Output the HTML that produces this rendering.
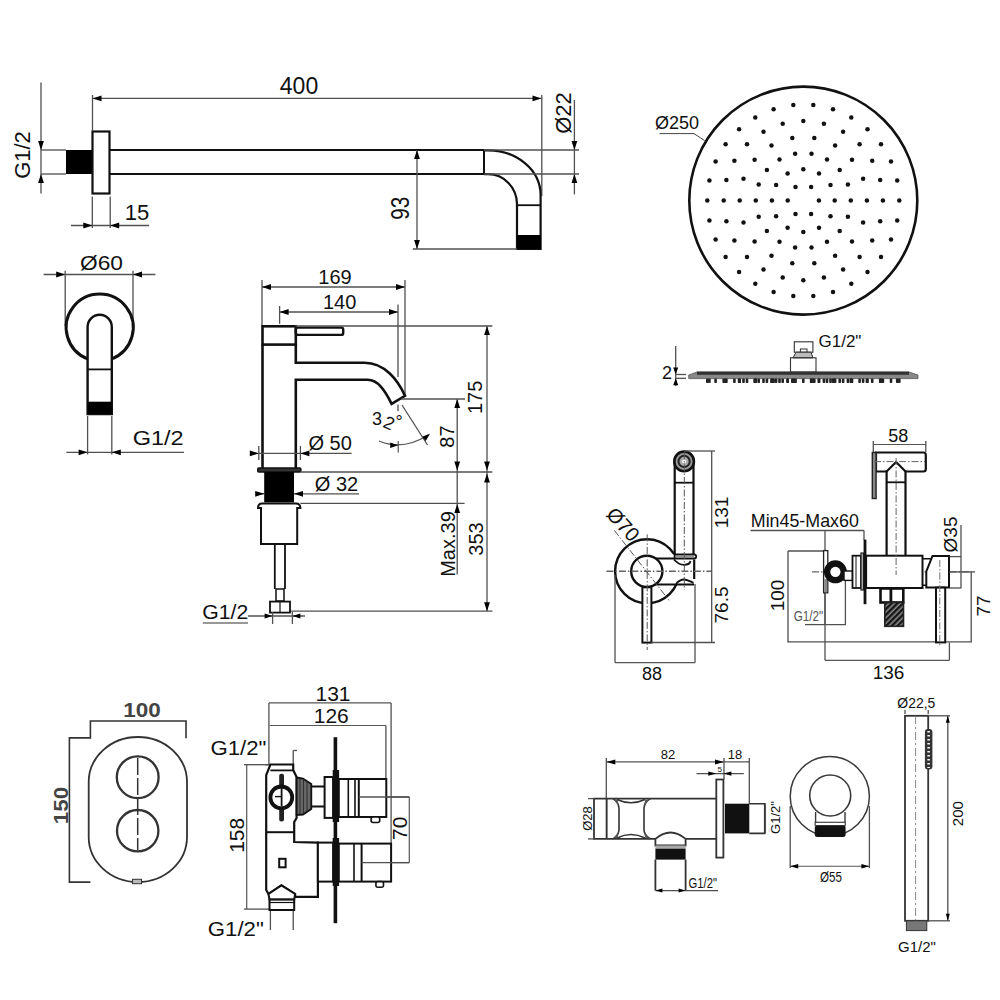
<!DOCTYPE html>
<html><head><meta charset="utf-8"><style>
html,body{margin:0;padding:0;background:#fff;}
svg{display:block;}
</style></head><body>
<svg width="1000" height="1000" viewBox="0 0 1000 1000">
<rect width="1000" height="1000" fill="#fff"/>
<line x1="41" y1="82.5" x2="41" y2="193.5" stroke="#505050" stroke-width="1.3" />
<polygon points="41.0,150.0 38.1,141.0 43.9,141.0" fill="#000"/>
<polygon points="41.0,174.0 38.1,183.0 43.9,183.0" fill="#000"/>
<line x1="41" y1="150" x2="66" y2="150" stroke="#505050" stroke-width="1.3" />
<line x1="41" y1="174" x2="66" y2="174" stroke="#505050" stroke-width="1.3" />
<text x="29.5" y="155" font-family="Liberation Sans" font-size="22" fill="#111" text-anchor="middle" transform="rotate(-90 29.5 155)" >G1/2</text>
<rect x="66" y="150" width="26" height="24" fill="#000"/>
<rect x="92.5" y="131.5" width="17" height="62" fill="none" stroke="#111" stroke-width="2.2" />
<line x1="109.5" y1="150" x2="484" y2="150" stroke="#111" stroke-width="2.2" />
<line x1="109.5" y1="174" x2="484" y2="174" stroke="#111" stroke-width="2.2" />
<line x1="92.5" y1="98.4" x2="541.5" y2="98.4" stroke="#505050" stroke-width="1.3" />
<polygon points="92.5,98.4 101.5,95.5 101.5,101.3" fill="#000"/>
<polygon points="541.5,98.4 532.5,95.5 532.5,101.3" fill="#000"/>
<line x1="92.5" y1="95" x2="92.5" y2="130.5" stroke="#505050" stroke-width="1.3" />
<line x1="541.8" y1="95" x2="541.8" y2="196" stroke="#505050" stroke-width="1.3" />
<text x="299" y="93.5" font-family="Liberation Sans" font-size="23" fill="#111" text-anchor="middle" >400</text>
<line x1="92.3" y1="196.5" x2="92.3" y2="228" stroke="#505050" stroke-width="1.3" />
<line x1="110.2" y1="196.5" x2="110.2" y2="228" stroke="#505050" stroke-width="1.3" />
<line x1="71" y1="225.5" x2="149" y2="225.5" stroke="#505050" stroke-width="1.3" />
<polygon points="92.3,225.5 83.3,222.6 83.3,228.4" fill="#000"/>
<polygon points="110.2,225.5 119.2,222.6 119.2,228.4" fill="#000"/>
<text x="137" y="220" font-family="Liberation Sans" font-size="22" fill="#111" text-anchor="middle" >15</text>
<line x1="484" y1="150" x2="484" y2="174" stroke="#111" stroke-width="2" />
<path d="M484,150.3 L488,150.3 A52.5,44.7 0 0 1 540.6,195 L540.6,249 L517,249 L517,204 A29,30 0 0 0 488,174.2 L484,174.2" fill="none" stroke="#111" stroke-width="2.2" />
<line x1="517" y1="205.2" x2="540.6" y2="205.2" stroke="#111" stroke-width="1.8" />
<rect x="517" y="235" width="24" height="14" fill="#000"/>
<line x1="417" y1="150" x2="417" y2="249" stroke="#505050" stroke-width="1.3" />
<polygon points="417.0,150.0 414.1,159.0 419.9,159.0" fill="#000"/>
<polygon points="417.0,249.0 414.1,240.0 419.9,240.0" fill="#000"/>
<line x1="412.8" y1="249" x2="517" y2="249" stroke="#505050" stroke-width="1.3" />
<text x="409.5" y="208.3" font-family="Liberation Sans" font-size="25" fill="#111" text-anchor="middle" transform="rotate(-90 409.5 208.3)" textLength="23" lengthAdjust="spacingAndGlyphs">93</text>
<line x1="574.4" y1="100" x2="574.4" y2="194.4" stroke="#505050" stroke-width="1.3" />
<polygon points="574.4,150.0 571.5,141.0 577.3,141.0" fill="#000"/>
<polygon points="574.4,174.0 571.5,183.0 577.3,183.0" fill="#000"/>
<line x1="484" y1="150" x2="579" y2="150" stroke="#505050" stroke-width="1.3" />
<line x1="484" y1="174" x2="579" y2="174" stroke="#505050" stroke-width="1.3" />
<text x="570.5" y="113" font-family="Liberation Sans" font-size="22" fill="#111" text-anchor="middle" transform="rotate(-90 570.5 113)" >Ø22</text>
<circle cx="803.3" cy="200.6" r="114" fill="none" stroke="#111" stroke-width="2.6" />
<g fill="#111"><circle cx="818.9" cy="200.6" r="2.25"/><circle cx="811.1" cy="187.1" r="2.25"/><circle cx="795.5" cy="187.1" r="2.25"/><circle cx="787.7" cy="200.6" r="2.25"/><circle cx="795.5" cy="214.1" r="2.25"/><circle cx="811.1" cy="214.1" r="2.25"/><circle cx="834.7" cy="200.6" r="2.25"/><circle cx="830.5" cy="184.9" r="2.25"/><circle cx="819.0" cy="173.4" r="2.25"/><circle cx="803.3" cy="169.2" r="2.25"/><circle cx="787.6" cy="173.4" r="2.25"/><circle cx="776.1" cy="184.9" r="2.25"/><circle cx="771.9" cy="200.6" r="2.25"/><circle cx="776.1" cy="216.3" r="2.25"/><circle cx="787.6" cy="227.8" r="2.25"/><circle cx="803.3" cy="232.0" r="2.25"/><circle cx="819.0" cy="227.8" r="2.25"/><circle cx="830.5" cy="216.3" r="2.25"/><circle cx="850.8" cy="200.6" r="2.25"/><circle cx="847.9" cy="184.4" r="2.25"/><circle cx="839.7" cy="170.1" r="2.25"/><circle cx="827.0" cy="159.5" r="2.25"/><circle cx="811.5" cy="153.8" r="2.25"/><circle cx="795.1" cy="153.8" r="2.25"/><circle cx="779.5" cy="159.5" r="2.25"/><circle cx="766.9" cy="170.1" r="2.25"/><circle cx="758.7" cy="184.4" r="2.25"/><circle cx="755.8" cy="200.6" r="2.25"/><circle cx="758.7" cy="216.8" r="2.25"/><circle cx="766.9" cy="231.1" r="2.25"/><circle cx="779.5" cy="241.7" r="2.25"/><circle cx="795.1" cy="247.4" r="2.25"/><circle cx="811.5" cy="247.4" r="2.25"/><circle cx="827.0" cy="241.7" r="2.25"/><circle cx="839.7" cy="231.1" r="2.25"/><circle cx="847.9" cy="216.8" r="2.25"/><circle cx="866.9" cy="200.6" r="2.25"/><circle cx="863.1" cy="178.8" r="2.25"/><circle cx="852.0" cy="159.7" r="2.25"/><circle cx="835.1" cy="145.5" r="2.25"/><circle cx="814.3" cy="138.0" r="2.25"/><circle cx="792.3" cy="138.0" r="2.25"/><circle cx="771.5" cy="145.5" r="2.25"/><circle cx="754.6" cy="159.7" r="2.25"/><circle cx="743.5" cy="178.8" r="2.25"/><circle cx="739.7" cy="200.6" r="2.25"/><circle cx="743.5" cy="222.4" r="2.25"/><circle cx="754.6" cy="241.5" r="2.25"/><circle cx="771.5" cy="255.7" r="2.25"/><circle cx="792.3" cy="263.2" r="2.25"/><circle cx="814.3" cy="263.2" r="2.25"/><circle cx="835.1" cy="255.7" r="2.25"/><circle cx="852.0" cy="241.5" r="2.25"/><circle cx="863.1" cy="222.4" r="2.25"/><circle cx="882.9" cy="200.6" r="2.25"/><circle cx="880.2" cy="180.0" r="2.25"/><circle cx="872.2" cy="160.8" r="2.25"/><circle cx="859.6" cy="144.3" r="2.25"/><circle cx="843.1" cy="131.7" r="2.25"/><circle cx="823.9" cy="123.7" r="2.25"/><circle cx="803.3" cy="121.0" r="2.25"/><circle cx="782.7" cy="123.7" r="2.25"/><circle cx="763.5" cy="131.7" r="2.25"/><circle cx="747.0" cy="144.3" r="2.25"/><circle cx="734.4" cy="160.8" r="2.25"/><circle cx="726.4" cy="180.0" r="2.25"/><circle cx="723.7" cy="200.6" r="2.25"/><circle cx="726.4" cy="221.2" r="2.25"/><circle cx="734.4" cy="240.4" r="2.25"/><circle cx="747.0" cy="256.9" r="2.25"/><circle cx="763.5" cy="269.5" r="2.25"/><circle cx="782.7" cy="277.5" r="2.25"/><circle cx="803.3" cy="280.2" r="2.25"/><circle cx="823.9" cy="277.5" r="2.25"/><circle cx="843.1" cy="269.5" r="2.25"/><circle cx="859.6" cy="256.9" r="2.25"/><circle cx="872.2" cy="240.4" r="2.25"/><circle cx="880.2" cy="221.2" r="2.25"/><circle cx="899.3" cy="200.6" r="2.25"/><circle cx="897.2" cy="180.6" r="2.25"/><circle cx="891.0" cy="161.6" r="2.25"/><circle cx="881.0" cy="144.2" r="2.25"/><circle cx="867.5" cy="129.3" r="2.25"/><circle cx="851.3" cy="117.5" r="2.25"/><circle cx="833.0" cy="109.3" r="2.25"/><circle cx="813.3" cy="105.1" r="2.25"/><circle cx="793.3" cy="105.1" r="2.25"/><circle cx="773.6" cy="109.3" r="2.25"/><circle cx="755.3" cy="117.5" r="2.25"/><circle cx="739.1" cy="129.3" r="2.25"/><circle cx="725.6" cy="144.2" r="2.25"/><circle cx="715.6" cy="161.6" r="2.25"/><circle cx="709.4" cy="180.6" r="2.25"/><circle cx="707.3" cy="200.6" r="2.25"/><circle cx="709.4" cy="220.6" r="2.25"/><circle cx="715.6" cy="239.6" r="2.25"/><circle cx="725.6" cy="257.0" r="2.25"/><circle cx="739.1" cy="271.9" r="2.25"/><circle cx="755.3" cy="283.7" r="2.25"/><circle cx="773.6" cy="291.9" r="2.25"/><circle cx="793.3" cy="296.1" r="2.25"/><circle cx="813.3" cy="296.1" r="2.25"/><circle cx="833.0" cy="291.9" r="2.25"/><circle cx="851.3" cy="283.7" r="2.25"/><circle cx="867.5" cy="271.9" r="2.25"/><circle cx="881.0" cy="257.0" r="2.25"/><circle cx="891.0" cy="239.6" r="2.25"/><circle cx="897.2" cy="220.6" r="2.25"/></g>
<text x="655" y="128.5" font-family="Liberation Sans" font-size="18" fill="#111" text-anchor="start" >Ø250</text>
<polyline points="659.5,133.6 694,133.6 704.5,140.5" fill="none" stroke="#444" stroke-width="1"/>
<line x1="675.7" y1="346" x2="675.7" y2="386" stroke="#505050" stroke-width="1.3" />
<polygon points="675.7,374.5 673.2,367.5 678.2,367.5" fill="#000"/>
<polygon points="675.7,378.3 673.2,385.3 678.2,385.3" fill="#000"/>
<line x1="675.7" y1="374.5" x2="686" y2="374.5" stroke="#505050" stroke-width="1.3" />
<line x1="675.7" y1="378.3" x2="686" y2="378.3" stroke="#505050" stroke-width="1.3" />
<text x="667" y="378.5" font-family="Liberation Sans" font-size="18" fill="#111" text-anchor="middle" >2</text>
<polygon points="688.7,375 697,372 909,372 918,375 918,378.6 688.7,378.6" fill="#888" stroke="#555" stroke-width="0.8"/>
<rect x="697" y="371.6" width="212" height="3.2" fill="#333"/>
<g fill="#222"><rect x="706.0" y="378.6" width="2.6" height="4.4" rx="0.8"/><rect x="708.1" y="378.6" width="2.6" height="4.4" rx="0.8"/><rect x="714.3" y="378.6" width="2.6" height="4.4" rx="0.8"/><rect x="722.4" y="378.6" width="2.6" height="4.4" rx="0.8"/><rect x="724.3" y="378.6" width="2.6" height="4.4" rx="0.8"/><rect x="725.1" y="378.6" width="2.6" height="4.4" rx="0.8"/><rect x="733.1" y="378.6" width="2.6" height="4.4" rx="0.8"/><rect x="737.8" y="378.6" width="2.6" height="4.4" rx="0.8"/><rect x="738.4" y="378.6" width="2.6" height="4.4" rx="0.8"/><rect x="742.2" y="378.6" width="2.6" height="4.4" rx="0.8"/><rect x="745.7" y="378.6" width="2.6" height="4.4" rx="0.8"/><rect x="753.3" y="378.6" width="2.6" height="4.4" rx="0.8"/><rect x="754.0" y="378.6" width="2.6" height="4.4" rx="0.8"/><rect x="754.5" y="378.6" width="2.6" height="4.4" rx="0.8"/><rect x="757.4" y="378.6" width="2.6" height="4.4" rx="0.8"/><rect x="762.2" y="378.6" width="2.6" height="4.4" rx="0.8"/><rect x="765.6" y="378.6" width="2.6" height="4.4" rx="0.8"/><rect x="770.2" y="378.6" width="2.6" height="4.4" rx="0.8"/><rect x="770.6" y="378.6" width="2.6" height="4.4" rx="0.8"/><rect x="772.3" y="378.6" width="2.6" height="4.4" rx="0.8"/><rect x="774.8" y="378.6" width="2.6" height="4.4" rx="0.8"/><rect x="778.2" y="378.6" width="2.6" height="4.4" rx="0.8"/><rect x="781.4" y="378.6" width="2.6" height="4.4" rx="0.8"/><rect x="786.3" y="378.6" width="2.6" height="4.4" rx="0.8"/><rect x="786.4" y="378.6" width="2.6" height="4.4" rx="0.8"/><rect x="791.0" y="378.6" width="2.6" height="4.4" rx="0.8"/><rect x="792.0" y="378.6" width="2.6" height="4.4" rx="0.8"/><rect x="793.8" y="378.6" width="2.6" height="4.4" rx="0.8"/><rect x="794.2" y="378.6" width="2.6" height="4.4" rx="0.8"/><rect x="802.0" y="378.6" width="2.6" height="4.4" rx="0.8"/><rect x="809.8" y="378.6" width="2.6" height="4.4" rx="0.8"/><rect x="810.2" y="378.6" width="2.6" height="4.4" rx="0.8"/><rect x="812.0" y="378.6" width="2.6" height="4.4" rx="0.8"/><rect x="813.0" y="378.6" width="2.6" height="4.4" rx="0.8"/><rect x="817.6" y="378.6" width="2.6" height="4.4" rx="0.8"/><rect x="817.7" y="378.6" width="2.6" height="4.4" rx="0.8"/><rect x="822.6" y="378.6" width="2.6" height="4.4" rx="0.8"/><rect x="825.7" y="378.6" width="2.6" height="4.4" rx="0.8"/><rect x="829.2" y="378.6" width="2.6" height="4.4" rx="0.8"/><rect x="831.7" y="378.6" width="2.6" height="4.4" rx="0.8"/><rect x="833.4" y="378.6" width="2.6" height="4.4" rx="0.8"/><rect x="833.8" y="378.6" width="2.6" height="4.4" rx="0.8"/><rect x="838.4" y="378.6" width="2.6" height="4.4" rx="0.8"/><rect x="841.8" y="378.6" width="2.6" height="4.4" rx="0.8"/><rect x="846.6" y="378.6" width="2.6" height="4.4" rx="0.8"/><rect x="849.5" y="378.6" width="2.6" height="4.4" rx="0.8"/><rect x="850.0" y="378.6" width="2.6" height="4.4" rx="0.8"/><rect x="850.7" y="378.6" width="2.6" height="4.4" rx="0.8"/><rect x="858.3" y="378.6" width="2.6" height="4.4" rx="0.8"/><rect x="861.8" y="378.6" width="2.6" height="4.4" rx="0.8"/><rect x="865.6" y="378.6" width="2.6" height="4.4" rx="0.8"/><rect x="866.2" y="378.6" width="2.6" height="4.4" rx="0.8"/><rect x="870.9" y="378.6" width="2.6" height="4.4" rx="0.8"/><rect x="878.9" y="378.6" width="2.6" height="4.4" rx="0.8"/><rect x="879.7" y="378.6" width="2.6" height="4.4" rx="0.8"/><rect x="881.6" y="378.6" width="2.6" height="4.4" rx="0.8"/><rect x="889.7" y="378.6" width="2.6" height="4.4" rx="0.8"/><rect x="895.9" y="378.6" width="2.6" height="4.4" rx="0.8"/><rect x="898.0" y="378.6" width="2.6" height="4.4" rx="0.8"/></g>
<rect x="794.3" y="341.8" width="18.6" height="10.4" fill="none" stroke="#333" stroke-width="1.1" />
<rect x="800.4" y="349" width="6.6" height="3.5" fill="none" stroke="#333" stroke-width="1" />
<polygon points="796,352.2 811,352.2 813,357.8 793,357.8" fill="#bbb" stroke="#333" stroke-width="1"/>
<rect x="790.5" y="357.8" width="25.5" height="14.4" fill="none" stroke="#333" stroke-width="1.1" />
<text x="818.5" y="346.6" font-family="Liberation Sans" font-size="17" fill="#111" text-anchor="start" >G1/2"</text>
<line x1="43.6" y1="274.5" x2="155.4" y2="274.5" stroke="#505050" stroke-width="1.3" />
<polygon points="65.2,274.5 56.2,271.6 56.2,277.4" fill="#000"/>
<polygon points="133.0,274.5 142.0,271.6 142.0,277.4" fill="#000"/>
<line x1="65.2" y1="270.8" x2="65.2" y2="326" stroke="#505050" stroke-width="1.3" />
<line x1="133" y1="270.8" x2="133" y2="326" stroke="#505050" stroke-width="1.3" />
<text x="101.5" y="269.7" font-family="Liberation Sans" font-size="20" fill="#111" text-anchor="middle" textLength="43" lengthAdjust="spacingAndGlyphs">Ø60</text>
<path d="M87.6,358.8 A33.5,33.5 0 1 1 111.8,358.8" fill="none" stroke="#111" stroke-width="3" />
<path d="M87.6,414 L87.6,326.9 A12.1,12.1 0 0 1 111.8,326.9 L111.8,414 Z" fill="none" stroke="#111" stroke-width="2.4" />
<line x1="87.6" y1="369.4" x2="111.8" y2="369.4" stroke="#111" stroke-width="1.8" />
<rect x="87.6" y="401.7" width="24.2" height="12.3" fill="#000"/>
<line x1="87.6" y1="416" x2="87.6" y2="454.5" stroke="#505050" stroke-width="1.3" />
<line x1="111.8" y1="416" x2="111.8" y2="454.5" stroke="#505050" stroke-width="1.3" />
<line x1="66.3" y1="452.3" x2="184" y2="452.3" stroke="#505050" stroke-width="1.3" />
<polygon points="87.6,452.3 78.6,449.4 78.6,455.2" fill="#000"/>
<polygon points="111.8,452.3 120.8,449.4 120.8,455.2" fill="#000"/>
<text x="158.2" y="444.6" font-family="Liberation Sans" font-size="21" fill="#111" text-anchor="middle" textLength="51" lengthAdjust="spacingAndGlyphs">G1/2</text>
<line x1="262" y1="287" x2="405" y2="287" stroke="#505050" stroke-width="1.3" />
<polygon points="262.0,287.0 271.0,284.1 271.0,289.9" fill="#000"/>
<polygon points="405.0,287.0 396.0,284.1 396.0,289.9" fill="#000"/>
<line x1="262" y1="280" x2="262" y2="326" stroke="#505050" stroke-width="1.3" />
<line x1="405" y1="280" x2="405" y2="395.8" stroke="#505050" stroke-width="1.3" />
<text x="335" y="283.8" font-family="Liberation Sans" font-size="20" fill="#111" text-anchor="middle" >169</text>
<line x1="279.6" y1="312" x2="398" y2="312" stroke="#505050" stroke-width="1.3" />
<polygon points="279.6,312.0 288.6,309.1 288.6,314.9" fill="#000"/>
<polygon points="398.0,312.0 389.0,309.1 389.0,314.9" fill="#000"/>
<line x1="279.6" y1="306" x2="279.6" y2="323.8" stroke="#505050" stroke-width="1.3" />
<line x1="398" y1="304.6" x2="398" y2="377" stroke="#505050" stroke-width="1.3" />
<line x1="398" y1="404.5" x2="398" y2="411" stroke="#505050" stroke-width="1.3" />
<text x="339.6" y="309.4" font-family="Liberation Sans" font-size="20" fill="#111" text-anchor="middle" >140</text>
<rect x="262.5" y="326.3" width="33.3" height="18.3" fill="none" stroke="#111" stroke-width="2.6" />
<rect x="295.8" y="327.6" width="47.4" height="7.3" fill="none" stroke="#111" stroke-width="2.4" rx="2"/>
<line x1="262.5" y1="344.6" x2="262.5" y2="468" stroke="#111" stroke-width="2.6" />
<path d="M295.8,344.6 L295.8,362.8 L364.4,362.8 C385,362.8 398,380.5 405,395.8 L391.6,403.8 C385,390.5 378,379.8 367.6,379.8 L295.8,379.8 L295.8,468" fill="none" stroke="#111" stroke-width="2.6" />
<rect x="257.8" y="468" width="43" height="4" fill="#333" stroke="#111" stroke-width="1.6" rx="1"/>
<line x1="295.6" y1="326" x2="492.4" y2="326" stroke="#505050" stroke-width="1.3" />
<line x1="487" y1="326" x2="487" y2="611.2" stroke="#505050" stroke-width="1.3" />
<polygon points="487.0,326.0 484.1,335.0 489.9,335.0" fill="#000"/>
<polygon points="487.0,470.4 484.1,461.4 489.9,461.4" fill="#000"/>
<polygon points="487.0,473.6 484.1,482.6 489.9,482.6" fill="#000"/>
<polygon points="487.0,611.2 484.1,602.2 489.9,602.2" fill="#000"/>
<line x1="300.4" y1="472" x2="492.4" y2="472" stroke="#505050" stroke-width="1.3" />
<text x="482.5" y="397.4" font-family="Liberation Sans" font-size="20" fill="#111" text-anchor="middle" transform="rotate(-90 482.5 397.4)" >175</text>
<text x="482.5" y="539" font-family="Liberation Sans" font-size="20" fill="#111" text-anchor="middle" transform="rotate(-90 482.5 539)" >353</text>
<line x1="457.2" y1="399" x2="457.2" y2="574.4" stroke="#505050" stroke-width="1.3" />
<polygon points="457.2,399.0 454.3,408.0 460.1,408.0" fill="#000"/>
<polygon points="457.2,470.4 454.3,461.4 460.1,461.4" fill="#000"/>
<polygon points="457.2,504.0 454.3,513.0 460.1,513.0" fill="#000"/>
<line x1="401" y1="399" x2="465" y2="399" stroke="#505050" stroke-width="1.3" />
<line x1="300.4" y1="503.4" x2="464.6" y2="503.4" stroke="#505050" stroke-width="1.3" />
<line x1="290" y1="611.2" x2="492.4" y2="611.2" stroke="#505050" stroke-width="1.3" />
<text x="454" y="436.5" font-family="Liberation Sans" font-size="20" fill="#111" text-anchor="middle" transform="rotate(-90 454 436.5)" >87</text>
<text x="454.5" y="544" font-family="Liberation Sans" font-size="20" fill="#111" text-anchor="middle" transform="rotate(-90 454.5 544)" >Max.39</text>
<line x1="402" y1="405" x2="427.5" y2="445" stroke="#505050" stroke-width="1.3" />
<path d="M379,441 Q403,451 428,435" fill="none" stroke="#555" stroke-width="1.1" />
<polygon points="430.0,433.8 425.7,441.1 422.1,436.8" fill="#000"/>
<polygon points="398.2,445.3 390.2,442.5 390.2,448.1" fill="#000"/>
<line x1="398.2" y1="441" x2="398.2" y2="452.6" stroke="#333" stroke-width="1" />
<text x="372" y="424.5" font-family="Liberation Sans" font-size="18" fill="#111" text-anchor="start" >3</text>
<text x="382" y="426.5" font-family="Liberation Sans" font-size="18" fill="#111" text-anchor="start" transform="rotate(25 382 426.5)" >2</text>
<text x="395.5" y="428" font-family="Liberation Sans" font-size="18" fill="#111" text-anchor="start" >°</text>
<line x1="250.8" y1="453.4" x2="351.6" y2="453.4" stroke="#505050" stroke-width="1.3" />
<polygon points="258.8,453.4 249.8,450.5 249.8,456.3" fill="#000"/>
<polygon points="300.4,453.4 309.4,450.5 309.4,456.3" fill="#000"/>
<line x1="258.8" y1="446" x2="258.8" y2="460" stroke="#505050" stroke-width="1.3" />
<line x1="300.4" y1="446" x2="300.4" y2="460" stroke="#505050" stroke-width="1.3" />
<text x="308.4" y="450.2" font-family="Liberation Sans" font-size="20" fill="#111" text-anchor="start" >Ø 50</text>
<rect x="264.2" y="472" width="29.8" height="30.4" fill="#000"/>
<line x1="256" y1="493.8" x2="264.2" y2="493.8" stroke="#505050" stroke-width="1.3" />
<line x1="294" y1="493.8" x2="359" y2="493.8" stroke="#505050" stroke-width="1.3" />
<polygon points="264.2,493.8 255.2,490.9 255.2,496.7" fill="#000"/>
<polygon points="294.0,493.8 303.0,490.9 303.0,496.7" fill="#000"/>
<text x="314.8" y="491" font-family="Liberation Sans" font-size="20" fill="#111" text-anchor="start" >Ø 32</text>
<path d="M258,508 Q258,503.4 262,503.4 L296,503.4 Q300.4,503.4 300.4,508 L297.2,508 L297.2,544 L261,544 L261,508 Z" fill="none" stroke="#111" stroke-width="2" />
<line x1="274.8" y1="544" x2="274.8" y2="589" stroke="#111" stroke-width="1.8" />
<line x1="285" y1="544" x2="285" y2="589" stroke="#111" stroke-width="1.8" />
<rect x="276" y="589" width="8" height="12" fill="none" stroke="#111" stroke-width="1.5" />
<rect x="270" y="601.6" width="20" height="11" fill="none" stroke="#111" stroke-width="1.8" />
<line x1="280" y1="601.6" x2="280" y2="612.6" stroke="#111" stroke-width="1.2" />
<text x="202.3" y="619.2" font-family="Liberation Sans" font-size="20.5" fill="#111" text-anchor="start" textLength="46" lengthAdjust="spacingAndGlyphs">G1/2</text>
<line x1="202.8" y1="623" x2="248" y2="623" stroke="#333" stroke-width="1.2" />
<line x1="248" y1="616" x2="305" y2="616" stroke="#505050" stroke-width="1.3" />
<polygon points="272.6,616.0 264.6,613.5 264.6,618.5" fill="#000"/>
<polygon points="292.4,616.0 300.4,613.5 300.4,618.5" fill="#000"/>
<line x1="272.6" y1="612" x2="272.6" y2="624" stroke="#505050" stroke-width="1.3" />
<line x1="292.4" y1="612" x2="292.4" y2="624" stroke="#505050" stroke-width="1.3" />
<circle cx="647.1" cy="571.3" r="32" fill="none" stroke="#111" stroke-width="2.4" />
<rect x="656" y="554.5" width="38.5" height="30" fill="#fff"/>
<line x1="656" y1="558.5" x2="694" y2="558.5" stroke="#111" stroke-width="2" />
<line x1="650" y1="584.5" x2="694" y2="584.5" stroke="#111" stroke-width="2" />
<circle cx="646.8" cy="571.3" r="15.6" fill="#fff" stroke="#111" stroke-width="2.4" />
<path d="M674.7,554.5 L674.7,461 M693.5,461 L693.5,554.5" fill="none" stroke="#111" stroke-width="2.2" />
<line x1="674.7" y1="482.7" x2="693.5" y2="482.7" stroke="#111" stroke-width="1.8" />
<circle cx="684.1" cy="461.4" r="9.8" fill="#9a9a9a" stroke="#111" stroke-width="2.6" />
<circle cx="684.1" cy="461.4" r="5.6" fill="#aaa" stroke="#222" stroke-width="2" />
<ellipse cx="684.1" cy="461.4" rx="2.2" ry="1.6" fill="#fff"/>
<path d="M674.6,558.5 L674.6,554.5 L694,554.5 Q696.2,554.5 696.2,556.5 Q696.2,558.5 694,558.5" fill="none" stroke="#111" stroke-width="1.8" />
<line x1="675" y1="556.5" x2="694" y2="556.5" stroke="#888" stroke-width="0.9" />
<path d="M674,559.5 C677,563 680,564.8 684,564.8 C688,564.8 690,564 690.5,561" fill="none" stroke="#111" stroke-width="1.8" />
<path d="M676,583.8 C679,580.5 681.5,579.5 684,579.5 C687,579.5 690,581.5 693.5,582.8" fill="none" stroke="#111" stroke-width="1.8" />
<line x1="694.2" y1="559.5" x2="694.2" y2="579" stroke="#111" stroke-width="2.2" />
<rect x="642.4" y="587.3" width="9" height="55.3" fill="#fff" stroke="#111" stroke-width="2" />
<line x1="684.3" y1="452" x2="684.3" y2="590" stroke="#555" stroke-width="1" stroke-dasharray="7 2 1.5 2"/>
<line x1="647.2" y1="534.4" x2="647.2" y2="650" stroke="#555" stroke-width="1" stroke-dasharray="7 2 1.5 2"/>
<line x1="606.4" y1="571.3" x2="712" y2="571.3" stroke="#666" stroke-width="1.4" stroke-dasharray="7 2 1.5 2"/>
<line x1="614.4" y1="530.4" x2="669" y2="600.3" stroke="#555" stroke-width="1" stroke-dasharray="7 2 1.5 2"/>
<text x="618" y="529" font-family="Liberation Sans" font-size="20" fill="#111" text-anchor="middle" transform="rotate(48 618 529)" >Ø70</text>
<line x1="684.1" y1="451" x2="715" y2="451" stroke="#505050" stroke-width="1.3" />
<line x1="711.7" y1="451" x2="711.7" y2="642.5" stroke="#505050" stroke-width="1.3" />
<line x1="651.4" y1="642.5" x2="715" y2="642.5" stroke="#505050" stroke-width="1.3" />
<text x="728" y="512.5" font-family="Liberation Sans" font-size="19" fill="#111" text-anchor="middle" transform="rotate(-90 728 512.5)" >131</text>
<text x="728" y="605" font-family="Liberation Sans" font-size="19" fill="#111" text-anchor="middle" transform="rotate(-90 728 605)" >76.5</text>
<line x1="615" y1="575" x2="615" y2="662.7" stroke="#505050" stroke-width="1.3" />
<line x1="695" y1="584" x2="695" y2="662.7" stroke="#505050" stroke-width="1.3" />
<line x1="615" y1="662.7" x2="695" y2="662.7" stroke="#555" stroke-width="1.2" />
<text x="652" y="679.5" font-family="Liberation Sans" font-size="18" fill="#111" text-anchor="middle" >88</text>
<text x="750.8" y="526.6" font-family="Liberation Sans" font-size="19" fill="#111" text-anchor="start" textLength="108" lengthAdjust="spacingAndGlyphs">Min45-Max60</text>
<line x1="750.5" y1="530.5" x2="864" y2="530.5" stroke="#505050" stroke-width="1.3" />
<line x1="825" y1="530.5" x2="825" y2="660.3" stroke="#505050" stroke-width="1.3" />
<line x1="864" y1="530.5" x2="864" y2="540" stroke="#505050" stroke-width="1.3" />
<line x1="788" y1="551" x2="823.6" y2="551" stroke="#505050" stroke-width="1.3" />
<line x1="788" y1="551" x2="788" y2="642.5" stroke="#505050" stroke-width="1.3" />
<line x1="788" y1="641.8" x2="972" y2="641.8" stroke="#505050" stroke-width="1.3" />
<text x="784" y="595.5" font-family="Liberation Sans" font-size="19" fill="#111" text-anchor="middle" transform="rotate(-90 784 595.5)" >100</text>
<text x="793.7" y="621" font-family="Liberation Sans" font-size="15" fill="#555" text-anchor="start" textLength="29.5" lengthAdjust="spacingAndGlyphs">G1/2"</text>
<line x1="805" y1="624.7" x2="846" y2="624.7" stroke="#505050" stroke-width="1.3" />
<line x1="845.4" y1="581" x2="845.4" y2="624.7" stroke="#505050" stroke-width="1.3" />
<line x1="825" y1="581" x2="825" y2="624.7" stroke="#505050" stroke-width="1.3" />
<line x1="825" y1="660.3" x2="949.4" y2="660.3" stroke="#555" stroke-width="1.2" />
<line x1="949.4" y1="642.5" x2="949.4" y2="660.3" stroke="#505050" stroke-width="1.3" />
<text x="888.5" y="679.2" font-family="Liberation Sans" font-size="19" fill="#111" text-anchor="middle" >136</text>
<line x1="812" y1="571.9" x2="972" y2="571.9" stroke="#666" stroke-width="1.4" stroke-dasharray="7 2 1.5 2"/>
<rect x="823.6" y="550.6" width="4.2" height="42.2" fill="#fff" stroke="#222" stroke-width="1.3" />
<rect x="824.2" y="579" width="3" height="13.2" fill="#888"/>
<circle cx="835.4" cy="571.8" r="8.3" fill="#fff" stroke="#111" stroke-width="6.3" />
<rect x="844" y="571" width="8.5" height="9.4" fill="#fff" stroke="#111" stroke-width="1.4" />
<rect x="852.5" y="555.7" width="8.5" height="32.3" fill="#fff" stroke="#111" stroke-width="1.8" />
<line x1="856" y1="555.7" x2="856" y2="588" stroke="#111" stroke-width="1" />
<rect x="861" y="553" width="2.6" height="37" fill="#aaa" stroke="#222" stroke-width="1.2" />
<rect x="863.6" y="539.6" width="2.8" height="64.6" fill="#111"/>
<rect x="866.1" y="555.7" width="56.4" height="32.3" fill="#fff" stroke="#111" stroke-width="2" />
<path d="M922.5,558.8 L931,558.8 M922.5,585.2 L926.3,585.2" fill="none" stroke="#111" stroke-width="1.4" />
<path d="M932.5,556 L949,556 L949,587.6 L926.3,587.6 L926.3,571.5 Z" fill="#fff" stroke="#111" stroke-width="2" />
<line x1="949.4" y1="556.6" x2="961.3" y2="556.6" stroke="#505050" stroke-width="1.3" />
<line x1="949.4" y1="588" x2="961.3" y2="588" stroke="#505050" stroke-width="1.3" />
<line x1="961" y1="525" x2="961" y2="588" stroke="#505050" stroke-width="1.3" />
<text x="957" y="534.5" font-family="Liberation Sans" font-size="19" fill="#111" text-anchor="middle" transform="rotate(-90 957 534.5)" >Ø35</text>
<line x1="949.4" y1="571.9" x2="975" y2="571.9" stroke="#505050" stroke-width="1.3" />
<line x1="971.2" y1="571.9" x2="971.2" y2="641.8" stroke="#505050" stroke-width="1.3" />
<text x="989.5" y="606" font-family="Liberation Sans" font-size="19" fill="#111" text-anchor="middle" transform="rotate(-90 989.5 606)" >77</text>
<rect x="936" y="587.6" width="9.2" height="54.8" fill="#fff" stroke="#111" stroke-width="2" />
<line x1="939.8" y1="560" x2="939.8" y2="646" stroke="#777" stroke-width="1" stroke-dasharray="7 2 1.5 2"/>
<rect x="880.5" y="588.5" width="10.5" height="14" fill="#fff" stroke="#111" stroke-width="2.6" />
<rect x="891" y="588.5" width="12.3" height="14" fill="#fff" stroke="#111" stroke-width="2.6" />
<defs><pattern id="hatch" width="4" height="4" patternUnits="userSpaceOnUse" patternTransform="rotate(45)"><rect width="4" height="4" fill="#888"/><rect width="2.4" height="4" fill="#151515"/></pattern></defs>
<rect x="884.8" y="602.5" width="18.7" height="23.8" fill="url(#hatch)" stroke="#222" stroke-width="1.6" />
<line x1="873.3" y1="444.5" x2="925.8" y2="444.5" stroke="#555" stroke-width="1.2" />
<line x1="873.3" y1="441" x2="873.3" y2="452" stroke="#505050" stroke-width="1.3" />
<line x1="925.8" y1="441" x2="925.8" y2="452" stroke="#505050" stroke-width="1.3" />
<text x="898.2" y="441.7" font-family="Liberation Sans" font-size="18" fill="#111" text-anchor="middle" >58</text>
<path d="M876,452.5 L923.5,452.5 Q925.8,452.5 925.8,455 L925.8,469 Q925.8,471.5 923.5,471.5 L905.5,471.5 L896.1,462 L886.6,471.5 L876,471.5 Z" fill="#fff" stroke="#111" stroke-width="2.2" />
<rect x="872.3" y="452.5" width="3.8" height="46" fill="#888" stroke="#222" stroke-width="1.4" />
<path d="M886.6,470.4 L886.6,555.5 M905.5,470.4 L905.5,555.5" fill="none" stroke="#111" stroke-width="2.2" />
<line x1="886.6" y1="482.3" x2="905.5" y2="482.3" stroke="#111" stroke-width="1.8" />
<line x1="874" y1="461.6" x2="925" y2="461.6" stroke="#666" stroke-width="1" stroke-dasharray="7 2 1.5 2"/>
<line x1="896.1" y1="458" x2="896.1" y2="575" stroke="#666" stroke-width="1" stroke-dasharray="7 2 1.5 2"/>
<text x="142" y="717.3" font-family="Liberation Sans" font-size="20" fill="#444" text-anchor="middle" font-weight="bold" textLength="37.5" lengthAdjust="spacingAndGlyphs">100</text>
<polyline points="186,738.3 186,721 90.4,721 90.4,737.9 69.4,737.9 69.4,882.1 90.4,882.1" fill="none" stroke="#333" stroke-width="1.6"/>
<text x="67.5" y="805.5" font-family="Liberation Sans" font-size="20" fill="#444" text-anchor="middle" transform="rotate(-90 67.5 805.5)" font-weight="bold" textLength="37.5" lengthAdjust="spacingAndGlyphs">150</text>
<path d="M88.7,782 A49.15,45 0 0 1 187,782 L187,837 A49.15,45 0 0 1 88.7,837 Z" fill="none" stroke="#333" stroke-width="1.8" />
<circle cx="137.7" cy="777.2" r="20.9" fill="none" stroke="#333" stroke-width="2.3" />
<circle cx="137.7" cy="830.7" r="20.7" fill="none" stroke="#333" stroke-width="2.3" />
<line x1="137.7" y1="758" x2="137.7" y2="850" stroke="#333" stroke-width="1.5" stroke-dasharray="17 3"/>
<rect x="132.5" y="879.3" width="9" height="4.4" fill="#bbb" stroke="#333" stroke-width="1" />
<line x1="268.9" y1="702.9" x2="391.1" y2="702.9" stroke="#555" stroke-width="1.2" />
<line x1="269.7" y1="725.5" x2="385.9" y2="725.5" stroke="#555" stroke-width="1.2" />
<line x1="268.9" y1="702.9" x2="268.9" y2="765" stroke="#505050" stroke-width="1.3" />
<line x1="391.1" y1="702.9" x2="391.1" y2="843" stroke="#505050" stroke-width="1.3" />
<line x1="385.9" y1="725.5" x2="385.9" y2="778" stroke="#505050" stroke-width="1.3" />
<text x="333" y="700.8" font-family="Liberation Sans" font-size="21" fill="#111" text-anchor="middle" >131</text>
<text x="331.3" y="722.9" font-family="Liberation Sans" font-size="21" fill="#111" text-anchor="middle" >126</text>
<text x="210.4" y="755.4" font-family="Liberation Sans" font-size="21" fill="#111" text-anchor="start" textLength="56" lengthAdjust="spacingAndGlyphs">G1/2"</text>
<text x="207.8" y="936.1" font-family="Liberation Sans" font-size="21" fill="#111" text-anchor="start" textLength="56" lengthAdjust="spacingAndGlyphs">G1/2"</text>
<line x1="293.2" y1="750.5" x2="293.2" y2="764" stroke="#505050" stroke-width="1.3" />
<line x1="293.2" y1="750.5" x2="297" y2="750.5" stroke="#505050" stroke-width="1.3" />
<line x1="270.4" y1="910" x2="270.4" y2="930" stroke="#505050" stroke-width="1.3" />
<line x1="293.2" y1="910" x2="293.2" y2="930" stroke="#505050" stroke-width="1.3" />
<line x1="265" y1="764.7" x2="270" y2="764.7" stroke="#505050" stroke-width="1.3" />
<line x1="246.7" y1="764.7" x2="246.7" y2="909.1" stroke="#555" stroke-width="1.2" />
<line x1="244" y1="764.7" x2="270" y2="764.7" stroke="#505050" stroke-width="1.3" />
<line x1="244" y1="909.1" x2="270" y2="909.1" stroke="#505050" stroke-width="1.3" />
<text x="244" y="835.3" font-family="Liberation Sans" font-size="21" fill="#111" text-anchor="middle" transform="rotate(-90 244 835.3)" >158</text>
<line x1="386" y1="797" x2="409.3" y2="797" stroke="#505050" stroke-width="1.3" />
<line x1="391" y1="862.6" x2="409.3" y2="862.6" stroke="#505050" stroke-width="1.3" />
<line x1="409.3" y1="797" x2="409.3" y2="862.6" stroke="#555" stroke-width="1.2" />
<text x="407" y="828.2" font-family="Liberation Sans" font-size="21" fill="#111" text-anchor="middle" transform="rotate(-90 407 828.2)" >70</text>
<path d="M270.4,764.5 L293.2,764.5 L293.2,770 L296.6,777 L296.6,818 L294.2,822 L294.2,842 L317.9,842.6 L317.9,896.8 L295.1,896.8 L295.1,894 L281.4,885.4 L268.5,894 L266.2,890 L266.2,775.2 Z" fill="#fff" stroke="#111" stroke-width="2.2" />
<line x1="270.4" y1="770.4" x2="293.2" y2="770.4" stroke="#111" stroke-width="1.8" />
<line x1="266.2" y1="832.2" x2="294.2" y2="832.2" stroke="#111" stroke-width="2" />
<path d="M268.5,894 L281.4,885.4 L295.1,894 L294.2,899.6 L269.5,899.6 Z" fill="#fff" stroke="#111" stroke-width="2" />
<rect x="269.5" y="899.6" width="24.7" height="10.4" fill="#fff" stroke="#111" stroke-width="2" />
<line x1="269.5" y1="902.5" x2="294.2" y2="902.5" stroke="#111" stroke-width="1.2" />
<rect x="279.2" y="773.8" width="4.8" height="13" rx="2" fill="#222"/><rect x="279.2" y="808" width="4.8" height="13.4" rx="2" fill="#222"/>
<circle cx="281.3" cy="797.4" r="10.9" fill="#fff" stroke="#111" stroke-width="3.8" />
<line x1="281.6" y1="788" x2="281.6" y2="806.5" stroke="#111" stroke-width="1.8" />
<line x1="275" y1="796.6" x2="281.6" y2="796.6" stroke="#111" stroke-width="1.4" />
<rect x="279.2" y="858.8" width="6.4" height="8.5" fill="#fff" stroke="#111" stroke-width="2" />
<polygon points="296.6,777.5 303,778.5 311.3,784 311.3,809 303,814.5 296.6,815" fill="#666" stroke="#111" stroke-width="1.8"/>
<line x1="300" y1="779" x2="300" y2="814" stroke="#222" stroke-width="0.8" />
<line x1="303.5" y1="779" x2="303.5" y2="814" stroke="#222" stroke-width="0.8" />
<line x1="307" y1="781" x2="307" y2="812" stroke="#222" stroke-width="0.8" />
<path d="M311.3,786.6 L324.6,786.6 M311.3,806.5 L324.6,806.5" fill="none" stroke="#111" stroke-width="2" />
<rect x="324.6" y="777" width="8.5" height="40.9" fill="#fff" stroke="#111" stroke-width="2" />
<rect x="332.7" y="770" width="6.4" height="52" fill="#111"/>
<rect x="338.8" y="779" width="47.5" height="38" fill="#fff" stroke="#111" stroke-width="2" />
<line x1="348.3" y1="779" x2="348.3" y2="817" stroke="#111" stroke-width="1.6" />
<line x1="355" y1="779" x2="355" y2="817" stroke="#111" stroke-width="1.6" />
<line x1="358.8" y1="779" x2="358.8" y2="817" stroke="#111" stroke-width="2" />
<rect x="371.1" y="817" width="8.6" height="5.5" fill="#fff" stroke="#111" stroke-width="1.6" rx="2"/>
<rect x="317.9" y="842.6" width="15.2" height="39" fill="#fff" stroke="#111" stroke-width="2" />
<rect x="332.7" y="838" width="6.4" height="48" fill="#111"/>
<rect x="338.8" y="843.6" width="52.3" height="38" fill="#fff" stroke="#111" stroke-width="2" />
<line x1="354" y1="843.6" x2="354" y2="881.6" stroke="#111" stroke-width="1.6" />
<line x1="361.6" y1="843.6" x2="361.6" y2="881.6" stroke="#111" stroke-width="2" />
<rect x="375.9" y="881.6" width="7.6" height="5.6" fill="#fff" stroke="#111" stroke-width="1.6" rx="2"/>
<line x1="333" y1="881.6" x2="338.8" y2="881.6" stroke="#111" stroke-width="1.6" />
<rect x="333.6" y="737.2" width="3.6" height="186" fill="#111"/>
<line x1="358.8" y1="797" x2="409.3" y2="797" stroke="#505050" stroke-width="1.3" />
<line x1="361.6" y1="862.6" x2="409.3" y2="862.6" stroke="#505050" stroke-width="1.3" />
<line x1="606.3" y1="761.9" x2="749.3" y2="761.9" stroke="#555" stroke-width="1.1" />
<polygon points="606.3,761.9 615.3,759.4 615.3,764.4" fill="#000"/>
<polygon points="724.0,761.9 715.0,759.4 715.0,764.4" fill="#000"/>
<line x1="606.3" y1="758" x2="606.3" y2="838.9" stroke="#505050" stroke-width="1.3" />
<line x1="724" y1="758" x2="724" y2="779.5" stroke="#505050" stroke-width="1.3" />
<line x1="749.3" y1="758" x2="749.3" y2="803.7" stroke="#505050" stroke-width="1.3" />
<text x="668" y="758.6" font-family="Liberation Sans" font-size="13" fill="#111" text-anchor="middle" >82</text>
<text x="735" y="758.6" font-family="Liberation Sans" font-size="13" fill="#111" text-anchor="middle" >18</text>
<line x1="696.5" y1="773.6" x2="743.8" y2="773.6" stroke="#505050" stroke-width="1.3" />
<polygon points="716.3,773.6 708.3,771.4 708.3,775.8" fill="#000"/>
<polygon points="723.4,773.6 731.4,771.4 731.4,775.8" fill="#000"/>
<text x="719.8" y="772" font-family="Liberation Sans" font-size="8" fill="#111" text-anchor="middle" >5</text>
<path d="M716.3,798.6 L594,798.6 L594,838.9 L655.4,838.9 M685.6,838.9 L716.3,838.9" fill="none" stroke="#333" stroke-width="1.8" />
<line x1="606.8" y1="798.6" x2="606.8" y2="838.9" stroke="#333" stroke-width="1.6" />
<path d="M613,798.6 Q618.5,802 619,808 L619,830 Q618.5,835.5 613,838.9 M650.5,798.6 Q644.5,802 644,808 L644,830 Q644.5,835.5 650.5,838.9 M617,799.5 Q631,806 645,799.5 M617,838 Q631,831 645,838" fill="none" stroke="#333" stroke-width="1.6" />
<g fill="#555"><polygon points="613.5,799.5 617.5,799.5 619,806"/><polygon points="613.5,838 617.5,838 619,831.5"/><polygon points="649.5,799.5 645.5,799.5 643.5,806"/><polygon points="649.5,838 645.5,838 643.5,831.5"/></g>
<path d="M655.4,845.5 L655.4,838.9 Q670.5,826 685.6,838.9 L685.6,845.5 Z" fill="#fff" stroke="#333" stroke-width="1.8" />
<rect x="655.4" y="845.5" width="30.2" height="3" fill="#aaa"/>
<rect x="655.4" y="848.6" width="30.2" height="11" fill="#111"/>
<path d="M655.4,859.6 L655.4,890.6 M685.6,859.6 L685.6,890.6" fill="none" stroke="#333" stroke-width="1.8" />
<line x1="655.4" y1="890.6" x2="718" y2="890.6" stroke="#505050" stroke-width="1.3" />
<polygon points="655.4,890.6 662.4,888.6 662.4,892.6" fill="#000"/>
<polygon points="685.6,890.6 678.6,888.6 678.6,892.6" fill="#000"/>
<text x="688.5" y="888.4" font-family="Liberation Sans" font-size="14.5" fill="#111" text-anchor="start" textLength="28.5" lengthAdjust="spacingAndGlyphs">G1/2"</text>
<rect x="716.3" y="779.5" width="7.1" height="78.1" fill="#fff" stroke="#333" stroke-width="1.8" />
<rect x="725" y="803.7" width="24.3" height="29.7" fill="#111"/>
<path d="M749.3,803.7 L764.7,803.7 L764.7,833.4 L749.3,833.4" fill="none" stroke="#333" stroke-width="1.6" />
<line x1="765.4" y1="803.7" x2="765.4" y2="833.4" stroke="#505050" stroke-width="1.3" />
<text x="779.5" y="817.5" font-family="Liberation Sans" font-size="13" fill="#111" text-anchor="middle" transform="rotate(-90 779.5 817.5)" >G1/2"</text>
<line x1="588" y1="798.6" x2="594" y2="798.6" stroke="#505050" stroke-width="1.3" />
<line x1="588" y1="838.9" x2="594" y2="838.9" stroke="#505050" stroke-width="1.3" />
<text x="591.5" y="818.5" font-family="Liberation Sans" font-size="13" fill="#111" text-anchor="middle" transform="rotate(-90 591.5 818.5)" >Ø28</text>
<circle cx="829.8" cy="796.2" r="39.6" fill="none" stroke="#3a3a3a" stroke-width="1.5" />
<circle cx="830.2" cy="795.5" r="20.5" fill="#fff" stroke="#3a3a3a" stroke-width="1.6" />
<path d="M815.6,812 L815.6,823 M845,812 L845,823" fill="none" stroke="#3a3a3a" stroke-width="1.4" />
<rect x="815.2" y="822.3" width="30" height="3.4" fill="#fff" stroke="#444" stroke-width="1.2" />
<rect x="814.8" y="825.4" width="30.8" height="11.6" rx="2.5" fill="#111"/>
<line x1="790.2" y1="806" x2="790.2" y2="868" stroke="#505050" stroke-width="1.3" />
<line x1="869.4" y1="806" x2="869.4" y2="868" stroke="#505050" stroke-width="1.3" />
<line x1="790.2" y1="866.2" x2="869.4" y2="866.2" stroke="#555" stroke-width="1.1" />
<polygon points="790.2,866.2 798.2,864.0 798.2,868.4" fill="#000"/>
<polygon points="869.4,866.2 861.4,864.0 861.4,868.4" fill="#000"/>
<text x="831" y="881.6" font-family="Liberation Sans" font-size="14.5" fill="#111" text-anchor="middle" textLength="22" lengthAdjust="spacingAndGlyphs">Ø55</text>
<rect x="905" y="715.8" width="23.2" height="205" fill="#fff" stroke="#333" stroke-width="1.8" />
<line x1="915.6" y1="716" x2="915.6" y2="921" stroke="#888" stroke-width="1" stroke-dasharray="8 3 2 3"/>
<rect x="924.9" y="729" width="7.5" height="40.6" rx="3" fill="#333"/>
<line x1="928.6" y1="731" x2="928.6" y2="768" stroke="#fff" stroke-width="2.5" stroke-dasharray="1.6 2.4"/>
<rect x="906.4" y="920.8" width="20.4" height="9.8" fill="#777" stroke="#333" stroke-width="1"/>
<line x1="928.2" y1="715.8" x2="950" y2="715.8" stroke="#505050" stroke-width="1.3" />
<line x1="928.2" y1="920.8" x2="950" y2="920.8" stroke="#505050" stroke-width="1.3" />
<line x1="947.8" y1="715.8" x2="947.8" y2="920.8" stroke="#505050" stroke-width="1.3" />
<polygon points="947.8,715.8 945.8,722.8 949.8,722.8" fill="#000"/>
<polygon points="947.8,920.8 945.8,913.8 949.8,913.8" fill="#000"/>
<text x="963" y="813.7" font-family="Liberation Sans" font-size="15" fill="#111" text-anchor="middle" transform="rotate(-90 963 813.7)" >200</text>
<text x="916.3" y="707.6" font-family="Liberation Sans" font-size="15" fill="#111" text-anchor="middle" textLength="38" lengthAdjust="spacingAndGlyphs">Ø22,5</text>
<line x1="905" y1="710" x2="905" y2="714" stroke="#505050" stroke-width="1.3" />
<line x1="928.2" y1="710" x2="928.2" y2="714" stroke="#505050" stroke-width="1.3" />
<text x="917" y="951.6" font-family="Liberation Sans" font-size="15" fill="#111" text-anchor="middle" >G1/2"</text>
</svg></body></html>
